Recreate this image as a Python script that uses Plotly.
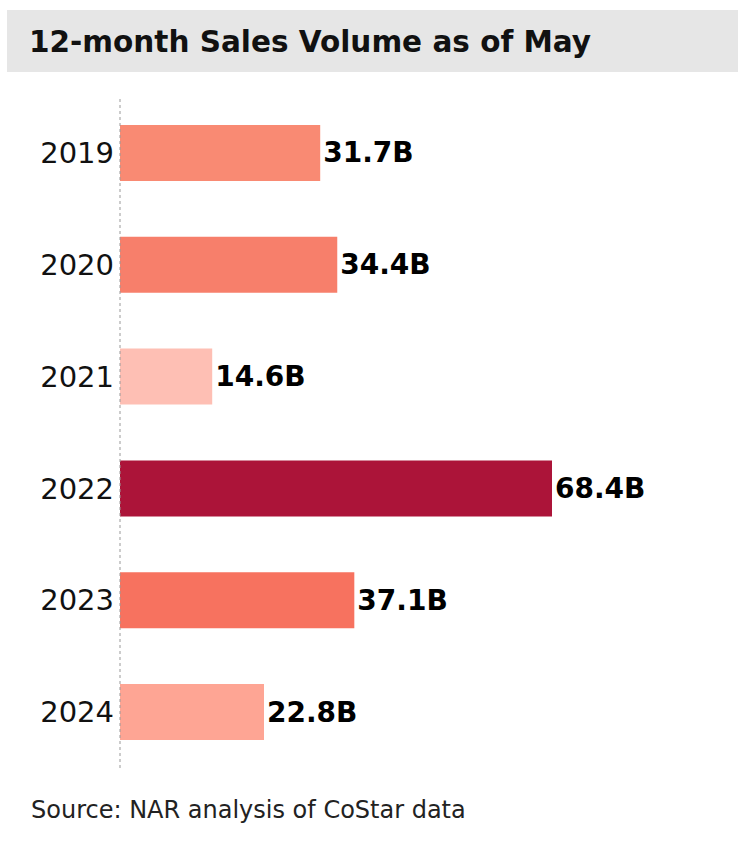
import plotly.graph_objects as go

years = ["2019", "2020", "2021", "2022", "2023", "2024"]
values = [31.7, 34.4, 14.6, 68.4, 37.1, 22.8]
labels = ["31.7B", "34.4B", "14.6B", "68.4B", "37.1B", "22.8B"]
colors = ["#F98A73", "#F77F6B", "#FEBFB4", "#AC1439", "#F7725F", "#FEA594"]

title_text = "12-month Sales Volume as of May"
source_text = "Source: NAR analysis of CoStar data"

fig = go.Figure(go.Bar(
    x=values, y=years, orientation="h",
    marker=dict(color=colors, line=dict(width=0)),
    text=labels, textposition="outside", cliponaxis=False,
    textfont=dict(family="DejaVu Sans", size=28, color="#000000", weight="bold"),
    hoverinfo="skip",
))

PH = 671  # plot height in px
PW = 600  # plot width in px

fig.update_layout(
    width=750, height=848,
    margin=dict(l=120, r=30, t=97, b=80),
    paper_bgcolor="white", plot_bgcolor="white",
    bargap=0.5, showlegend=False,
    xaxis=dict(range=[0, 95], visible=False, fixedrange=True),
    yaxis=dict(autorange=False, range=[5.5, -0.5], showgrid=False, zeroline=False,
               showline=False, ticks="", ticklabelstandoff=5, fixedrange=True,
               tickfont=dict(family="DejaVu Sans", size=29, color="#111111")),
    shapes=[
        dict(type="rect", xref="paper", yref="paper", x0=-113 / PW, x1=618 / PW,
             y0=(768 - 10) / PH, y1=(768 - 72) / PH,
             fillcolor="#E6E6E6", line=dict(width=0), layer="below"),
        dict(type="line", xref="paper", yref="paper", x0=0, x1=0, y0=0, y1=1,
             line=dict(color="#999999", width=1, dash="dot")),
    ],
    annotations=[
        dict(text=title_text, xref="paper", yref="paper", x=-93 / PW,
             y=(768 - 42) / PH, xanchor="left", yanchor="middle", showarrow=False,
             font=dict(family="DejaVu Sans", size=29.5, color="#111111", weight="bold")),
        dict(text=source_text, xref="paper", yref="paper", x=-91 / PW,
             y=(768 - 810) / PH, xanchor="left", yanchor="middle", showarrow=False,
             font=dict(family="DejaVu Sans", size=24, color="#222222")),
    ],
)

fig.write_html("out.html", config={"displayModeBar": False},
               post_script="document.body.style.margin='0';")
